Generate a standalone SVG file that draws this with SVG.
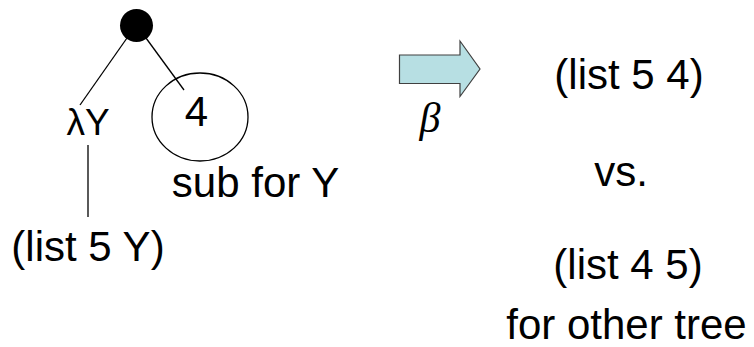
<svg xmlns="http://www.w3.org/2000/svg" width="754" height="347" viewBox="0 0 754 347">
<style>
.t{font-family:"Liberation Sans",Arial,sans-serif;font-size:42px;fill:#000;text-anchor:middle}
.ln{stroke:#000;stroke-width:1.3;fill:none}
</style>
<rect width="754" height="347" fill="#fff"/>
<g id="connectors">
<line class="ln" x1="127" y1="38" x2="80" y2="105"/>
<line class="ln" x1="146" y1="38" x2="184" y2="90"/>
<line class="ln" x1="88" y1="145" x2="88" y2="217"/>
</g>
<g id="root"><circle cx="136.5" cy="25.5" r="16.5" fill="#000"/></g>
<g id="lambda"><text class="t" x="88" y="135" style="font-size:37px">λY</text></g>
<g id="four"><ellipse cx="200" cy="117" rx="48" ry="44" fill="none" stroke="#000" stroke-width="1.3"/><text class="t" x="196.5" y="126">4</text></g>
<g id="sub"><text class="t" x="255.5" y="197">sub for Y</text></g>
<g id="body"><text class="t" x="88" y="261">(list 5 Y)</text></g>
<g id="arrow"><path d="M399.5,55 H460 V41 L480,69 L460,96.5 V83.5 H399.5 Z" fill="#b7dfe3" stroke="#404040" stroke-width="1.2"/><text x="430" y="132" font-family="'Liberation Serif',serif" font-style="italic" font-size="42" text-anchor="middle">β</text></g>
<g id="result"><text class="t" x="629" y="89">(list 5 4)</text><text class="t" x="621" y="186">vs.</text><text class="t" x="628" y="279">(list 4 5)</text><text class="t" x="626.5" y="339">for other tree</text></g>
</svg>
